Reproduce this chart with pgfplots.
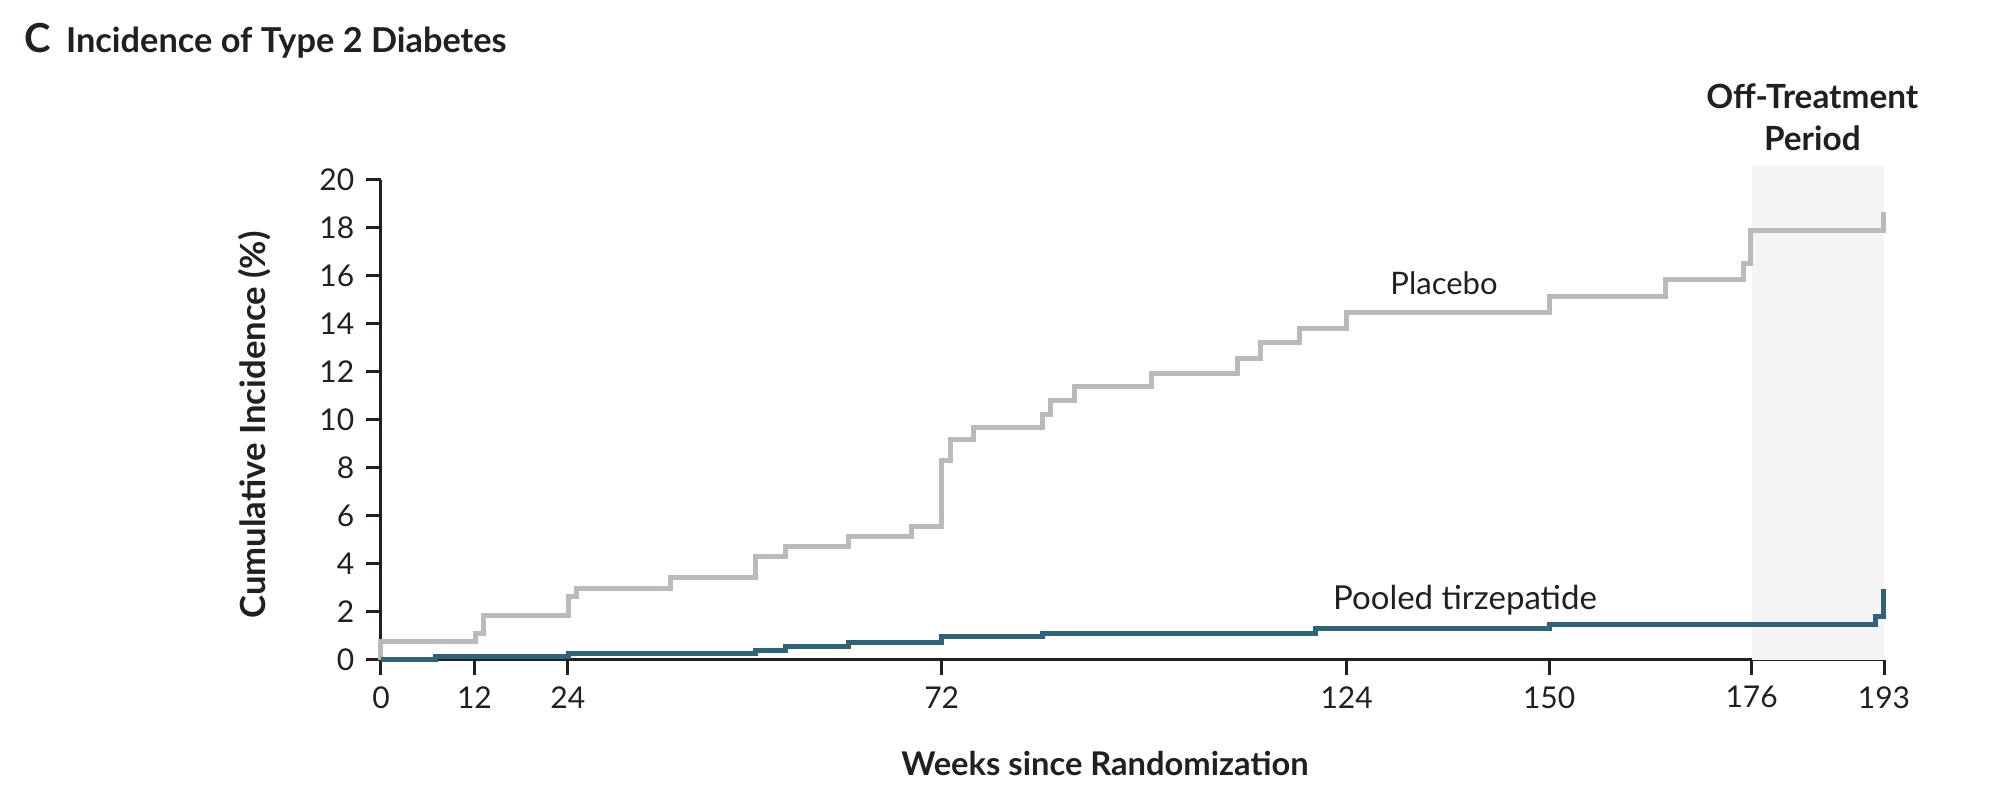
\documentclass[border=0pt]{standalone}
\usepackage{pgfplots}
\pgfplotsset{compat=1.18}
\usepackage{fontspec}
\setmainfont{Lato}
\definecolor{placebo}{RGB}{186,186,190}
\definecolor{tirz}{RGB}{45,100,120}
\definecolor{shade}{RGB}{244,244,244}
\definecolor{ink}{RGB}{35,31,32}

\begin{document}
\begin{tikzpicture}
\begin{axis}[
  scale only axis,
  width=450.9pt, height=144pt,
  at={(0,0)}, anchor=origin,
  xmin=0, xmax=193, ymin=0, ymax=20,
  axis lines=left,
  axis line style={-, line width=0.9pt, ink},
  clip=false,
  xtick={0,12,24,72,124,150,176,193},
  ytick={0,2,...,20},
  tick align=outside,
  major tick length=4.5pt,
  tick style={line width=0.9pt, ink},
  every tick label/.style={font=\fontsize{9}{11}\selectfont, text=ink},
  /pgf/number format/assume math mode=true,
  xlabel={Weeks since Randomization},
  ylabel={Cumulative Incidence (\%)},
  xlabel style={font=\fontsize{9.8}{11}\selectfont\bfseries, text=ink,
    at={(axis description cs:0.4817,-0.217)}, anchor=center},
  ylabel style={font=\fontsize{10.4}{12}\selectfont\bfseries, text=ink,
    at={(axis description cs:-0.0838,0.489)}, anchor=center},
]
% off-treatment shading
\addplot[fill=shade, draw=none] coordinates {(176,0) (193,0) (193,20.6) (176,20.6)} -- cycle;

% placebo
\addplot[const plot, color=placebo, line width=1.5pt] coordinates {
  (0,0) (0,0.75) (12.1,1.1) (13.2,1.86) (24.1,2.65) (25.1,2.97) (37.2,3.42)
  (48.1,4.28) (52,4.71) (60,5.13) (68.1,5.54) (72,8.29) (73.1,9.18) (76.1,9.67)
  (85,10.2) (86,10.78) (89,11.37) (99,11.93) (110,12.56) (113,13.21) (118,13.81)
  (124,14.46) (150,15.14) (165,15.82) (175,16.52) (175.8,17.9) (192.9,18.67)
};

% pooled tirzepatide
\addplot[const plot, color=tirz, line width=1.5pt] coordinates {
  (0,0) (7,0.13) (24.1,0.27) (48.1,0.4) (52,0.55) (60,0.7) (72,0.95)
  (85,1.1) (120,1.3) (150,1.45) (191.9,1.8) (192.9,2.95)
};

\node[font=\fontsize{9.3}{11}\selectfont, text=ink] at (axis cs:136.5,15.7) {Placebo};
\node[font=\fontsize{9.9}{11}\selectfont, text=ink] at (axis cs:139.2,2.49) {Pooled tirzepatide};
\node[font=\fontsize{10}{12.6}\selectfont\bfseries, text=ink, align=center]
  at (axis cs:183.8,22.6) {Off-Treatment\\Period};
\end{axis}
\node[anchor=base west, font=\fontsize{12}{14}\selectfont\bfseries, text=ink] at (-110.4pt,182.0pt) {C};
\node[anchor=base west, font=\fontsize{10.3}{12}\selectfont\bfseries, text=ink] at (-98pt,182.0pt) {Incidence of Type 2 Diabetes};
\path[use as bounding box] (-114.3pt,-39.7pt) rectangle (485.7pt,197.9pt);
\end{tikzpicture}
\end{document}
